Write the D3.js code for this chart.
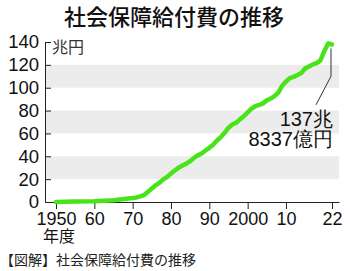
<!DOCTYPE html>
<html>
<head>
<meta charset="utf-8">
<script src="https://cdn.jsdelivr.net/npm/d3@7"></script>
<style>
  body { margin: 0; background: #fff; }
  svg { display: block; }
  text { font-family: "Liberation Sans", Arial, sans-serif; fill: #111; }
  .jp { font-family: "Noto Sans CJK JP", sans-serif; }
</style>
</head>
<body>
<div id="chart"></div>
<script>
// data: social security benefits, trillion yen, by fiscal year
const years = [1950, 1955, 1960, 1965, 1970, 1971, 1972, 1973, 1974, 1975, 1976, 1977, 1978, 1979,
    1980, 1981, 1982, 1983, 1984, 1985, 1986, 1987, 1988, 1989, 1990, 1991, 1992, 1993, 1994,
    1995, 1996, 1997, 1998, 1999, 2000, 2001, 2002, 2003, 2004, 2005, 2006, 2007, 2008, 2009,
    2010, 2011, 2012, 2013, 2014, 2015, 2016, 2017, 2018, 2019, 2020, 2021, 2022];
const benefits = [0.1, 0.4, 0.7, 1.6, 3.5, 4.0, 4.9, 6.2, 9.0, 11.8, 14.6, 16.9, 19.8, 22.0,
    24.9, 27.6, 30.1, 32.0, 33.6, 35.7, 38.6, 40.8, 42.5, 45.0, 47.4, 50.1, 53.8, 56.8, 60.5,
    65.0, 67.8, 69.4, 72.3, 75.0, 78.4, 81.7, 83.8, 84.9, 86.3, 88.9, 90.5, 92.7, 95.7, 101.7,
    105.4, 108.4, 109.5, 111.1, 112.8, 116.9, 118.5, 120.4, 121.5, 123.9, 132.2, 138.7, 137.8];
const yTicks = [0, 20, 40, 60, 80, 100, 120, 140];
const bands = [[20, 40], [60, 80], [100, 120]];
const xTicks = [1950, 1960, 1970, 1980, 1990, 2000, 2010, 2022];
const xTickLabels = ["1950", "60", "70", "80", "90", "2000", "10", "22"];
const title = "社会保障給付費の推移";
const unitLabel = "兆円";
const yearLabel = "年度";
const noteLines = ["137兆", "8337億円"];
const footer = "【図解】社会保障給付費の推移";

const width = 350, height = 271;
const plot = {left: 45, right: 339, top: 42, bottom: 202};

const svg = d3.select('#chart').append('svg')
    .attr('width', width)
    .attr('height', height);

const x = d3.scaleLinear()
    .domain([1947.13, 2023.83])
    .range([plot.left, plot.right]);

const y = d3.scaleLinear()
    .domain([0, 140])
    .range([plot.bottom, plot.top]);

// gray bands
svg.append('g').selectAll('rect')
    .data(bands)
    .join('rect')
    .attr('x', plot.left + 1)
    .attr('width', plot.right - plot.left - 1)
    .attr('y', d => y(d[1]))
    .attr('height', d => y(d[0]) - y(d[1]))
    .attr('fill', '#ececec');

// y axis
const yAxis = d3.axisLeft(y)
    .tickValues(yTicks)
    .tickSizeInner(-6)
    .tickSizeOuter(0)
    .tickPadding(6);

const yg = svg.append('g')
    .attr('transform', 'translate(' + plot.left + ',0)')
    .call(yAxis);
yg.select('.domain').attr('stroke', '#222');
yg.selectAll('.tick line').attr('stroke', '#222');
yg.selectAll('.tick text')
    .attr('font-size', 18.5)
    .attr('font-family', '"Liberation Sans", Arial, sans-serif')
    .attr('fill', '#111');

// x axis
const xAxis = d3.axisBottom(x)
    .tickValues(xTicks)
    .tickFormat((d, i) => xTickLabels[i])
    .tickSizeInner(7)
    .tickSizeOuter(0)
    .tickPadding(3);

const xg = svg.append('g')
    .attr('transform', 'translate(0,' + plot.bottom + ')')
    .call(xAxis);
xg.select('.domain').attr('stroke', '#222');
xg.selectAll('.tick line').attr('stroke', '#222');
xg.selectAll('.tick text')
    .attr('font-size', 18)
    .attr('font-family', '"Liberation Sans", Arial, sans-serif')
    .attr('fill', '#111');

// line
const data = years.map((yr, i) => ({year: yr, value: benefits[i]}));
const line = d3.line()
    .x(d => x(d.year))
    .y(d => y(d.value));

svg.append('path')
    .datum(data)
    .attr('d', line)
    .attr('fill', 'none')
    .attr('stroke', '#48e41a')
    .attr('stroke-width', 4.5)
    .attr('stroke-linejoin', 'round')
    .attr('stroke-linecap', 'round');

// leader line to annotation
const last = data[data.length - 1];
const lx = x(last.year) - 1;
svg.append('path')
    .attr('d', 'M' + lx + ',' + (y(last.value) + 4) + 'V' + y(110) + 'L' + (lx - 15) + ',' + y(85))
    .attr('fill', 'none')
    .attr('stroke', '#333')
    .attr('stroke-width', 1);

noteLines.forEach((t, i) => {
    svg.append('text')
        .attr('x', 333)
        .attr('y', 126 + i * 20)
        .attr('text-anchor', 'end')
        .attr('font-size', 20)
        .text(t);
});

// labels
svg.append('text')
    .attr('class', 'jp')
    .attr('x', 174)
    .attr('y', 25)
    .attr('text-anchor', 'middle')
    .attr('font-size', 22)
    .attr('font-weight', 500)
    .text(title);

svg.append('text')
    .attr('class', 'jp')
    .attr('x', 52)
    .attr('y', 53)
    .attr('font-size', 16)
    .style('fill', '#333')
    .text(unitLabel);

svg.append('text')
    .attr('class', 'jp')
    .attr('x', 43)
    .attr('y', 242)
    .attr('font-size', 16)
    .text(yearLabel);

svg.append('text')
    .attr('class', 'jp')
    .attr('x', 0)
    .attr('y', 265)
    .attr('font-size', 14)
    .style('fill', '#222')
    .text(footer);
</script>
</body>
</html>
